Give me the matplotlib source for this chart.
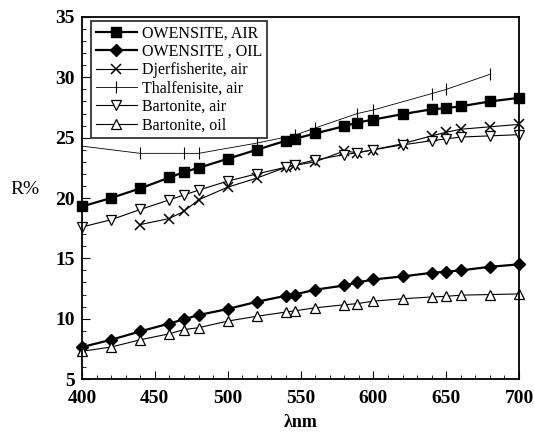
import matplotlib
matplotlib.use("Agg")
import matplotlib.pyplot as plt
from matplotlib.ticker import MultipleLocator

plt.rcParams["font.family"] = ["Liberation Serif", "DejaVu Serif"]

# ── 数据
wl = [400, 420, 440, 460, 470, 480, 500, 520, 540, 546,
      560, 580, 589, 600, 620, 640, 650, 660, 680, 700]

owensite_air = [19.3, 20.0, 20.8, 21.7, 22.15, 22.5, 23.25, 24.0, 24.75, 24.9,
                25.35, 25.95, 26.25, 26.5, 26.95, 27.35, 27.45, 27.6, 28.0, 28.3]
owensite_oil = [7.65, 8.25, 8.95, 9.6, 9.95, 10.3, 10.8, 11.4, 11.9, 12.0,
                12.4, 12.75, 13.0, 13.25, 13.5, 13.8, 13.9, 14.0, 14.3, 14.5]

djer_wl = wl[2:]
djer_air = [17.8, 18.3, 18.9, 19.85, 20.9, 21.65, 22.55, 22.7,
            23.0, 23.9, 23.75, 24.0, 24.5, 25.15, 25.45, 25.7, 25.9, 26.1]

thal_wl = [400, 440, 470, 480, 520, 546, 560, 589, 600, 640, 650, 680]
thal_air = [24.3, 23.7, 23.7, 23.7, 24.55, 25.2, 25.8, 27.0, 27.3, 28.65, 29.0, 30.25]

bart_air = [17.6, 18.2, 19.05, 19.85, 20.25, 20.65, 21.4, 22.0, 22.55, 22.75,
            23.15, 23.6, 23.75, 24.0, 24.4, 24.75, 24.9, 25.05, 25.15, 25.25]
bart_oil = [7.3, 7.65, 8.25, 8.75, 9.1, 9.25, 9.8, 10.2, 10.55, 10.65,
            10.9, 11.15, 11.25, 11.45, 11.65, 11.8, 11.85, 11.95, 12.0, 12.05]

fig = plt.figure(figsize=(5.34, 4.37), dpi=100)
ax = fig.add_axes([0.1536, 0.1327, 0.8184, 0.8284])

ax.plot(wl, owensite_air, color="black", lw=1.6, marker="s", ms=7,
        label="OWENSITE, AIR", clip_on=False)
ax.plot(wl, owensite_oil, color="black", lw=1.6, marker="D", ms=6,
        label="OWENSITE , OIL", clip_on=False)
ax.plot(djer_wl, djer_air, color="black", lw=0.8, marker="x", ms=7, mew=1.1,
        label="Djerfisherite, air", clip_on=False)
ax.plot(thal_wl, thal_air, color="black", lw=0.6, marker="|", ms=8, mew=0.8,
        markevery=list(range(1, len(thal_wl))),
        label="Thalfenisite, air", clip_on=False)
ax.plot(wl, bart_air, color="black", lw=0.8, marker="v", ms=7, mfc="white",
        mew=0.9, label="Bartonite, air", clip_on=False)
ax.plot(wl, bart_oil, color="black", lw=0.8, marker="^", ms=7, mfc="white",
        mew=0.9, label="Bartonite, oil", clip_on=False)

ax.set_xlim(400, 700)
ax.set_ylim(5, 35)
ax.xaxis.set_major_locator(MultipleLocator(50))
ax.xaxis.set_minor_locator(MultipleLocator(10))
ax.yaxis.set_major_locator(MultipleLocator(5))
ax.yaxis.set_minor_locator(MultipleLocator(1))
ax.tick_params(which="both", direction="in", top=False, right=False)
ax.tick_params(which="major", length=6, labelsize=14)
ax.tick_params(axis="x", which="major", pad=8)
ax.tick_params(axis="y", which="major", pad=5)
ax.tick_params(which="minor", length=3)
for lab in ax.get_xticklabels() + ax.get_yticklabels():
    lab.set_fontweight("bold")
for sp in ax.spines.values():
    sp.set_linewidth(1.3)

ax.set_xlabel("λnm", fontsize=13, fontweight="bold", labelpad=5)
ax.set_ylabel("R%", fontsize=14, rotation=0, labelpad=0)
ax.yaxis.set_label_coords(-0.13, 0.5)

leg = ax.legend(loc="upper left", bbox_to_anchor=(0.02, 0.99), fontsize=11.5,
                frameon=True, fancybox=False, edgecolor="black",
                labelspacing=0.15, handlelength=2.6, handletextpad=0.3,
                borderpad=0.3, borderaxespad=0)
leg.get_frame().set_linewidth(1.3)

fig.savefig("out.png", dpi=100)
